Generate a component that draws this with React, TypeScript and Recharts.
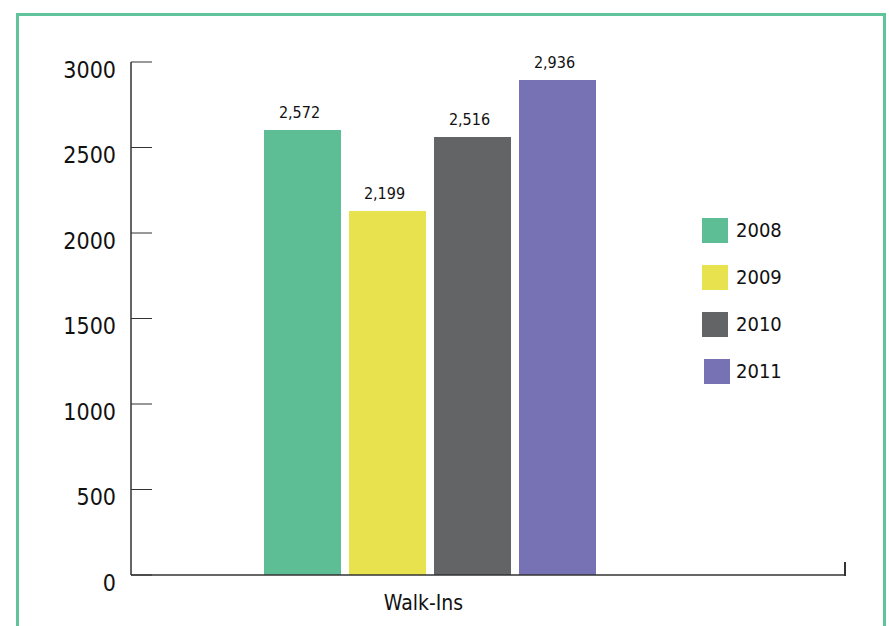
import React from 'react';
import { BarChart, Bar, XAxis, YAxis, Legend } from 'recharts';

const categories = ['Walk-Ins'];
const years = ['2008', '2009', '2010', '2011'];
// bar heights as drawn in the picture
const walkInValues = [2602, 2129, 2561, 2895];
// printed labels above each bar
const barLabels = ['2,572', '2,199', '2,516', '2,936'];
const yTicks = [0, 500, 1000, 1500, 2000, 2500, 3000];

const colors = ['#5dbd94', '#e9e24f', '#636466', '#7672b3'];
const FONT = "'Liberation Sans Narrow', 'DejaVu Sans Condensed', Roboto, sans-serif";
const AXIS = '#333333';

const data = categories.map((name) => {
  const row: Record<string, string | number> = { name };
  years.forEach((yr, i) => {
    row[yr] = walkInValues[i];
  });
  return row;
});

const YTick = (props: any) => {
  const { x, y, payload } = props;
  return (
    <text x={x} y={y} dy={15.5} textAnchor="end" fill="#111" fontSize={23} fontFamily={FONT}>
      {payload.value}
    </text>
  );
};

const XTick = (props: any) => {
  const { x, y, payload } = props;
  return (
    <text x={x - 6} y={y + 27} textAnchor="middle" fill="#111" fontSize={21} fontFamily={FONT}>
      {payload.value}
    </text>
  );
};

const BarLabel = (props: any) => {
  const { x, y, width, text } = props;
  return (
    <text x={x + width / 2 - 3} y={y - 12} textAnchor="middle" fill="#111" fontSize={16} fontFamily={FONT}>
      {text}
    </text>
  );
};

const LegendBox = () => (
  <div style={{ fontFamily: FONT }}>
    {years.map((yr, i) => (
      <div key={yr} style={{ display: 'flex', alignItems: 'center', height: 25, marginBottom: 22 }}>
        <div style={{ width: 26, height: 25, background: colors[i], marginLeft: i === 3 ? 2 : 0 }} />
        <span style={{ marginLeft: i === 3 ? 6 : 8, fontSize: 20, color: '#111', lineHeight: '25px' }}>{yr}</span>
      </div>
    ))}
  </div>
);

export default function App() {
  return (
    <div
      style={{
        position: 'absolute',
        left: 0,
        top: 0,
        width: 889,
        height: 626,
        overflow: 'hidden',
        background: '#fff',
      }}
    >
      <div
        style={{
          position: 'absolute',
          left: 16,
          top: 13,
          width: 864,
          height: 700,
          borderTop: '3px solid #5fc39c',
          borderLeft: '3px solid #5fc39c',
          borderRight: '3px solid #5fc39c',
        }}
      />
      <div style={{ position: 'absolute', left: 0, top: 0 }}>
        <BarChart
          width={889}
          height={626}
          data={data}
          margin={{ top: 62, right: 44, bottom: 11, left: 51 }}
          barGap={8}
        >
          <XAxis
            dataKey="name"
            axisLine={{ stroke: AXIS, strokeWidth: 1.5 }}
            tickLine={false}
            tick={<XTick />}
            height={40}
            padding={{ left: 0, right: 117 }}
          />
          <YAxis
            domain={[0, 3000]}
            ticks={yTicks}
            width={80}
            axisLine={{ stroke: AXIS, strokeWidth: 1.5 }}
            tickLine={{ stroke: AXIS, strokeWidth: 1 }}
            tickSize={-21}
            tickMargin={36}
            tick={<YTick />}
            interval={0}
          />
          <Legend
            layout="vertical"
            align="center"
            verticalAlign="middle"
            content={<LegendBox />}
            wrapperStyle={{ left: 702, top: 218, width: 140 }}
          />
          {years.map((yr, i) => (
            <Bar
              key={yr}
              dataKey={yr}
              fill={colors[i]}
              barSize={77}
              isAnimationActive={false}
              label={(p: any) => <BarLabel {...p} text={barLabels[i]} />}
            />
          ))}
        </BarChart>
      </div>
      <div style={{ position: 'absolute', left: 844, top: 562, width: 1.5, height: 13.5, background: AXIS }} />
    </div>
  );
}
